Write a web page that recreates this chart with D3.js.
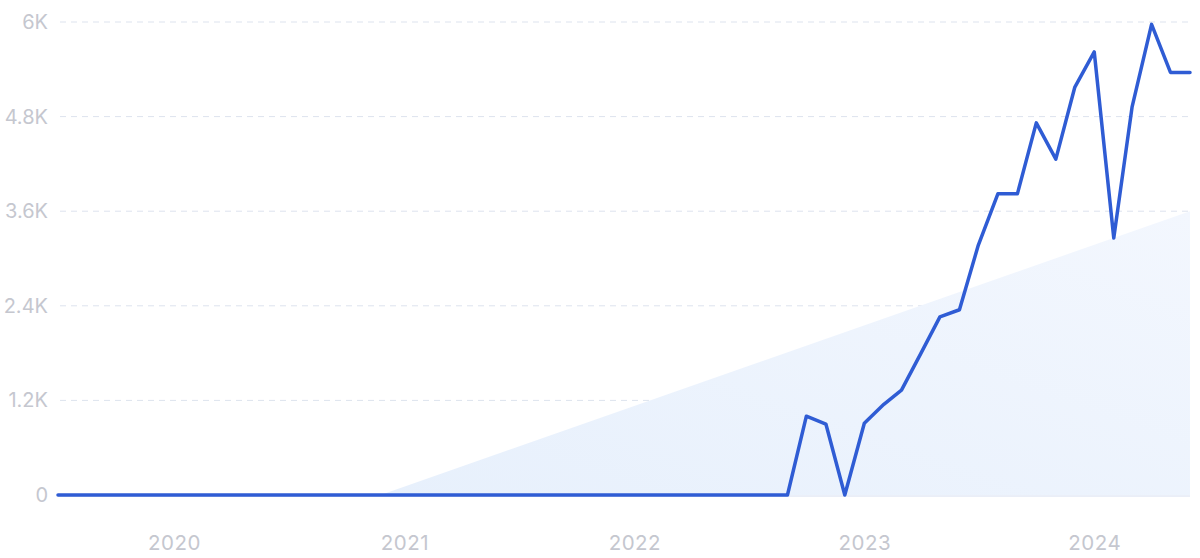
<!DOCTYPE html>
<html><head><meta charset="utf-8">
<script src="https://cdn.jsdelivr.net/npm/d3@7"></script>
<style>html,body{margin:0;padding:0;background:#fff;}svg{display:block;}</style>
</head><body>
<svg id="chart" width="1200" height="558"></svg>
<script>
// Monthly values, Jul 2019 – Jun 2024
const months = d3.range(60).map(i => new Date(2019, 6 + i, 1));
const values = [
  0,0,0,0,0,0,            // Jul–Dec 2019
  0,0,0,0,0,0,0,0,0,0,0,0, // 2020
  0,0,0,0,0,0,0,0,0,0,0,0, // 2021
  0,0,0,0,0,0,0,0,0,1000,900,0, // 2022
  910,1150,1330,1800,2260,2350,3170,3820,3820,4720,4260,5170, // 2023
  5620,3260,4920,5970,5360,5360 // 2024 Jan–Jun
];
const trendDates = [new Date(2020, 10, 24), new Date(2024, 5, 1)];
const trendValues = [0, 3600];
const yTicks = [0, 1200, 2400, 3600, 4800, 6000];
const yTickLabels = ["0", "1.2K", "2.4K", "3.6K", "4.8K", "6K"];
const xTickDates = [new Date(2020,0,1), new Date(2021,0,1), new Date(2022,0,1), new Date(2023,0,1), new Date(2024,0,1)];
const xTickLabels = ["2020", "2021", "2022", "2023", "2024"];

const svg = d3.select("#chart");
const x = d3.scaleTime().domain([months[0], months[months.length-1]]).range([58, 1190]);
const y = d3.scaleLinear().domain([0, 6000]).range([495, 22]);

const defs = svg.append("defs");
const grad = defs.append("linearGradient").attr("id","tg").attr("x1","0").attr("y1","1").attr("x2","1").attr("y2","0");
grad.append("stop").attr("offset","0%").attr("stop-color","#e7f0fc");
grad.append("stop").attr("offset","100%").attr("stop-color","#f3f7fe");

// grid
const grid = svg.append("g");
grid.selectAll("line").data(yTicks.filter(d => d > 0)).join("line")
  .attr("x1", 60).attr("x2", 1190)
  .attr("y1", d => y(d)).attr("y2", d => y(d))
  .attr("stroke", "#dde3ee").attr("stroke-width", 1).attr("stroke-dasharray", "6,5");

// trend area
const trendData = trendDates.map((d,i) => ({date:d, value:trendValues[i]}));
svg.append("path").datum(trendData)
  .attr("d", d3.area().x(d => x(d.date)).y0(y(0)).y1(d => y(d.value)))
  .attr("fill", "url(#tg)");

// baseline
svg.append("line").attr("x1", 58).attr("x2", 1190).attr("y1", y(0)+1).attr("y2", y(0)+1)
  .attr("stroke", "#d6def0").attr("stroke-width", 1);

// y axis labels
const yAxis = d3.axisLeft(y).tickValues(yTicks).tickFormat((d,i) => yTickLabels[i]).tickSize(0).tickPadding(0);
const ya = svg.append("g").attr("transform", "translate(48,0)").call(yAxis);
ya.select(".domain").remove();
ya.selectAll("text").attr("font-family","Inter, sans-serif").attr("font-size", 20)
  .attr("fill", "#c5c7cf");

// x axis labels
const xAxis = d3.axisBottom(x).tickValues(xTickDates).tickFormat((d,i) => xTickLabels[i]).tickSize(0).tickPadding(0);
const xa = svg.append("g").attr("transform", "translate(0,535)").call(xAxis);
xa.select(".domain").remove();
xa.selectAll("text").attr("font-family","Inter, sans-serif").attr("font-size", 20.5)
  .attr("letter-spacing", 0.5).attr("fill", "#c5c7cf");

// line
const data = months.map((d,i) => ({date:d, value:values[i]}));
svg.append("path").datum(data)
  .attr("d", d3.line().x(d => x(d.date)).y(d => y(d.value)))
  .attr("fill", "none").attr("stroke", "#2f5cd4").attr("stroke-width", 3.5)
  .attr("stroke-linejoin", "round").attr("stroke-linecap", "round");
</script>
</body></html>
